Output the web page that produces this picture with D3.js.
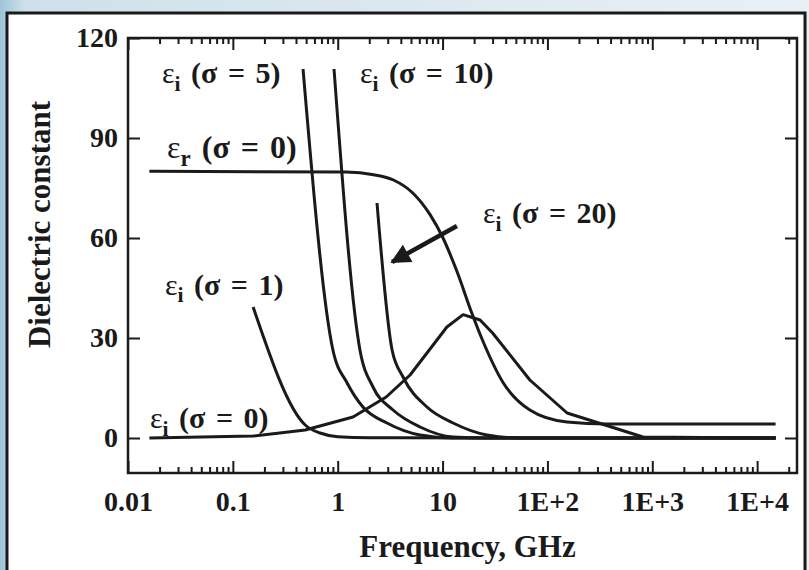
<!DOCTYPE html>
<html>
<head>
<meta charset="utf-8">
<script src="https://cdn.jsdelivr.net/npm/d3@7"></script>
<style>
  body { margin: 0; background: #ffffff; }
  text { font-family: "Liberation Serif", "Times New Roman", serif; fill: #1a1a1a; }
</style>
</head>
<body>
<svg id="chart" width="809" height="570"></svg>
<script>
// frequency in GHz, dielectric constant values
const epsR0 = [[0.016, 80], [1.2, 79.8], [2.2, 79], [3.4, 77.4], [5.2, 73.5], [7.6, 67], [10.1, 60],
  [13.7, 50], [19, 37.5], [24, 29.4], [38, 16.5], [68, 8.4], [154, 4.8], [370, 4.2], [15000, 4.2]];
const epsI0 = [[0.016, 0], [0.156, 0.6], [0.49, 2.4], [1.4, 6.3], [2.9, 12.3], [4.9, 18.9], [11, 33.3],
  [15.7, 37], [22.8, 35.4], [30, 31.5], [68, 17.4], [154, 7.5], [816, 0.3], [15000, 0]];
const epsI1 = [[0.156, 39.3], [0.49, 3.9], [0.68, 1.5], [1.0, 0.4], [2, 0.05], [15000, 0]];
const epsI5 = [[0.467, 110.7], [0.9, 26.4], [1.23, 16.5], [1.74, 9.3], [2.95, 4.5], [6.1, 0.9], [12.6, 0], [15000, 0]];
const epsI10 = [[0.922, 110.7], [1.63, 26.4], [2.17, 15.3], [3.37, 8.4], [6.1, 3.3], [12.6, 0.3], [26.5, 0], [15000, 0]];
const epsI20 = [[2.37, 70.5], [3.3, 26.4], [4.2, 18.3], [7.1, 9.3], [12.6, 4.5], [26.5, 0.9], [54.8, 0], [15000, 0]];

const xMajor = [0.01, 0.1, 1, 10, 100, 1000, 10000];
const xLabels = ["0.01", "0.1", "1", "10", "1E+2", "1E+3", "1E+4"];
const yTicks = [0, 30, 60, 90, 120];

// label anchors [freq, value]
const labels = [
  { at: [0.0211, 106.5], sub: "i", rest: " (σ = 5)", size: 30 },
  { at: [1.63, 106.5], sub: "i", rest: " (σ = 10)", size: 30 },
  { at: [0.0236, 84], sub: "r", rest: " (σ = 0)", size: 32 },
  { at: [24.3, 64.5], sub: "i", rest: " (σ = 20)", size: 30 },
  { at: [0.0225, 43], sub: "i", rest: " (σ = 1)", size: 30 },
  { at: [0.0162, 3], sub: "i", rest: " (σ = 0)", size: 30 }
];
const arrowFrom = [13.7, 63.6];
const arrowTo = [3.3, 52.8];

const svg = d3.select("#chart");
const width = 809, height = 570;

// background + panel
const defs = svg.append("defs");
const grad = defs.append("linearGradient").attr("id", "bg").attr("x1", 0).attr("x2", 1).attr("y1", 0).attr("y2", 0);
grad.append("stop").attr("offset", "0%").attr("stop-color", "#9cc4da");
grad.append("stop").attr("offset", "3%").attr("stop-color", "#cfe0ea");
grad.append("stop").attr("offset", "100%").attr("stop-color", "#e9f0f5");
svg.append("rect").attr("width", width).attr("height", height).attr("fill", "url(#bg)");
svg.append("rect").attr("x", 7).attr("y", 13).attr("width", 798).attr("height", 570)
  .attr("fill", "#fff").attr("stroke", "#1a1a1a").attr("stroke-width", 3);

const x = d3.scaleLog().domain([0.01, 24000]).range([128, 797]);
const y = d3.scaleLinear().domain([-10.5, 120]).range([473, 38]);

const xMinor = [];
xMajor.forEach(m => { for (let k = 2; k <= 9; k++) if (m * k < 24000) xMinor.push(m * k); });

// axes, ticks pointing inward
const fontSize = 28;
const styleAxis = g => {
  g.select(".domain").remove();
  g.selectAll("line").attr("stroke", "#1a1a1a").attr("stroke-width", 2);
  g.selectAll("text").attr("font-size", fontSize).attr("font-weight", "bold").attr("fill", "#1a1a1a")
    .attr("font-family", "'Liberation Serif', serif");
};

svg.append("g").attr("transform", `translate(0,${y(-10.5)})`)
  .call(d3.axisBottom(x).tickValues(xMajor).tickSizeInner(-12).tickSizeOuter(0).tickPadding(18)
    .tickFormat((d, i) => xLabels[i]))
  .call(styleAxis);
svg.append("g").attr("transform", `translate(0,${y(-10.5)})`)
  .call(d3.axisBottom(x).tickValues(xMinor).tickSizeInner(-6).tickSizeOuter(0).tickFormat(""))
  .call(styleAxis);
svg.append("g").attr("transform", `translate(0,${y(120)})`)
  .call(d3.axisTop(x).tickValues(xMajor).tickSizeInner(-12).tickSizeOuter(0).tickFormat(""))
  .call(styleAxis);
svg.append("g").attr("transform", `translate(0,${y(120)})`)
  .call(d3.axisTop(x).tickValues(xMinor).tickSizeInner(-6).tickSizeOuter(0).tickFormat(""))
  .call(styleAxis);
svg.append("g").attr("transform", `translate(${x(0.01)},0)`)
  .call(d3.axisLeft(y).tickValues(yTicks).tickSizeInner(-12).tickSizeOuter(0).tickPadding(10))
  .call(styleAxis);
svg.append("g").attr("transform", `translate(${x(24000)},0)`)
  .call(d3.axisRight(y).tickValues(yTicks).tickSizeInner(-12).tickSizeOuter(0).tickFormat(""))
  .call(styleAxis);

// plot frame
svg.append("rect")
  .attr("x", x(0.01)).attr("y", y(120))
  .attr("width", x(24000) - x(0.01)).attr("height", y(-10.5) - y(120))
  .attr("fill", "none").attr("stroke", "#1a1a1a").attr("stroke-width", 2.5);

// curves
const smooth = d3.line().x(d => x(d[0])).y(d => y(d[1])).curve(d3.curveMonotoneX);
const straight = d3.line().x(d => x(d[0])).y(d => y(d[1]));
[[epsR0, smooth], [epsI0, straight], [epsI1, smooth], [epsI5, smooth], [epsI10, smooth], [epsI20, smooth]]
  .forEach(([data, gen]) => {
    svg.append("path").datum(data)
      .attr("fill", "none").attr("stroke", "#1a1a1a").attr("stroke-width", 3)
      .attr("stroke-linejoin", "round").attr("d", gen);
  });

// arrow
defs.append("marker").attr("id", "head").attr("viewBox", "0 0 10 10").attr("refX", 9).attr("refY", 5)
  .attr("markerWidth", 5).attr("markerHeight", 4.4).attr("orient", "auto")
  .append("path").attr("d", "M0,0 L10,5 L0,10 z").attr("fill", "#1a1a1a");
svg.append("line")
  .attr("x1", x(arrowFrom[0])).attr("y1", y(arrowFrom[1]))
  .attr("x2", x(arrowTo[0])).attr("y2", y(arrowTo[1]))
  .attr("stroke", "#1a1a1a").attr("stroke-width", 4.5).attr("marker-end", "url(#head)");

// curve labels
labels.forEach(l => {
  const t = svg.append("text").attr("x", x(l.at[0])).attr("y", y(l.at[1])).attr("font-size", l.size)
    .attr("word-spacing", 3);
  t.append("tspan").text("ε");
  t.append("tspan").attr("dy", l.size * 0.25).attr("font-size", l.size * 0.72).attr("font-weight", "bold").text(l.sub);
  t.append("tspan").attr("dy", -l.size * 0.25).attr("font-weight", "bold").text(l.rest);
});

// axis titles
svg.append("text").attr("x", (x(0.01) + x(24000)) / 2 + 5).attr("y", 557)
  .attr("text-anchor", "middle").attr("font-size", 31).attr("font-weight", "bold").text("Frequency, GHz");
svg.append("text").attr("transform", `translate(50,${(y(-10.5) + y(120)) / 2 - 31}) rotate(-90)`)
  .attr("text-anchor", "middle").attr("font-size", 31).attr("font-weight", "bold").text("Dielectric constant");
</script>
</body>
</html>
